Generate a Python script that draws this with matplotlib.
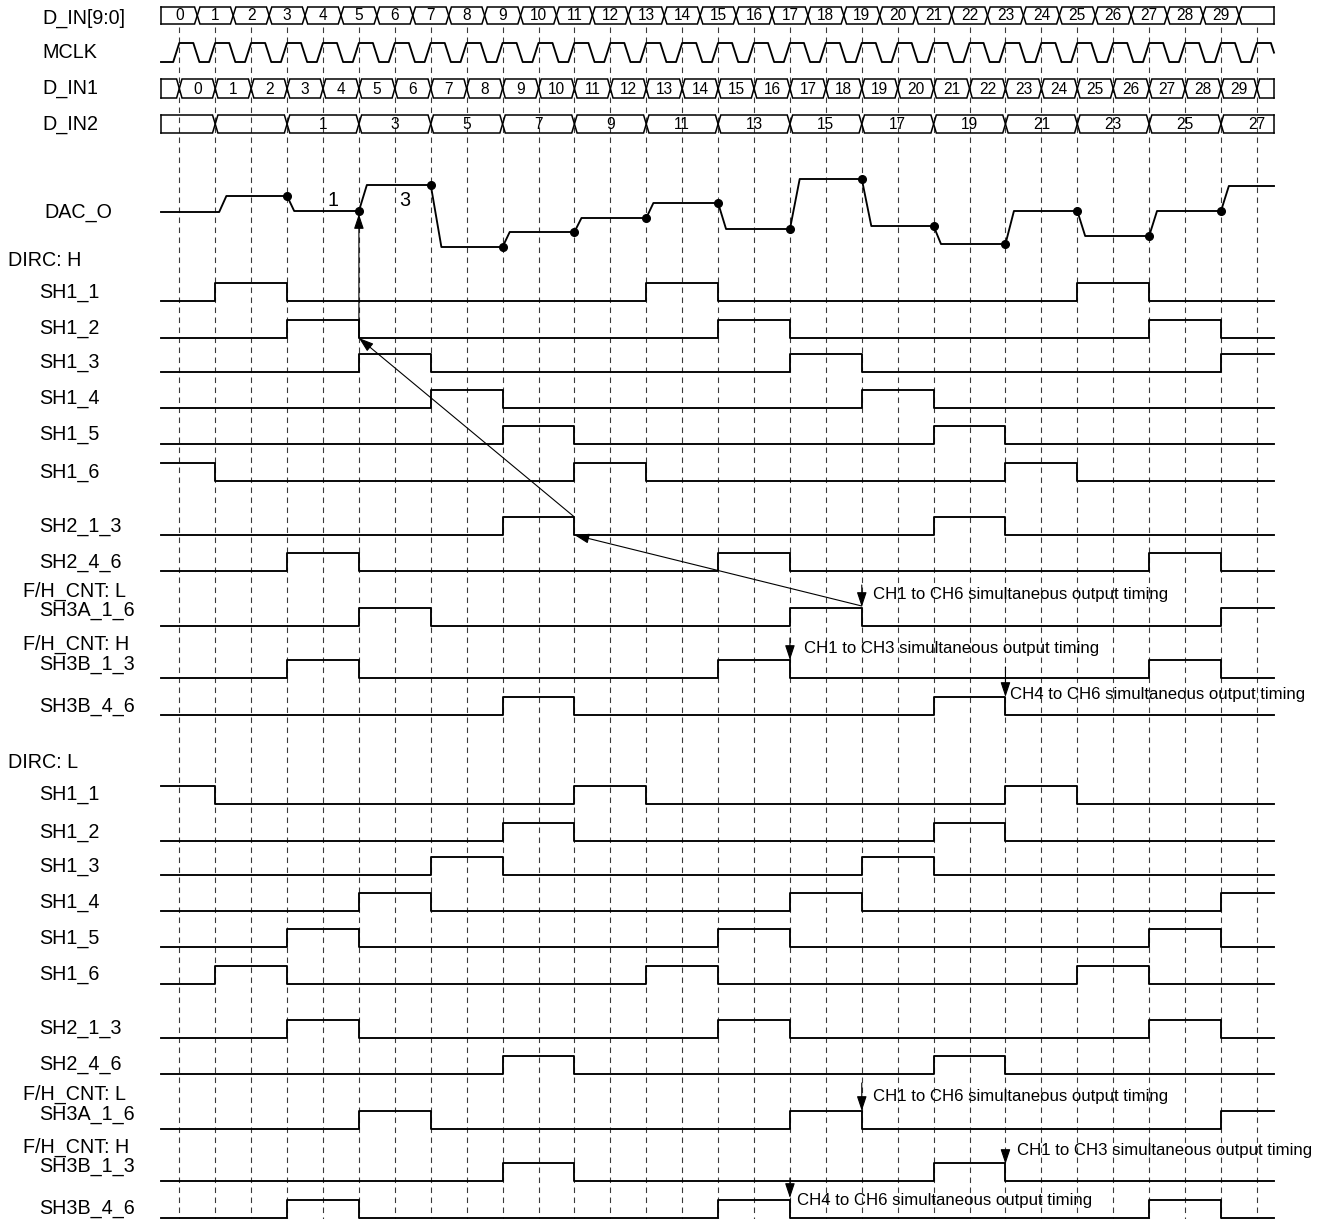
import matplotlib
matplotlib.use("Agg")
import matplotlib.pyplot as plt

plt.rcParams['font.family'] = ['Liberation Sans', 'DejaVu Sans']
plt.rcParams['lines.scale_dashes'] = False

# ---------------- data ----------------
din_bus_values = ['0', '1', '2', '3', '4', '5', '6', '7', '8', '9', '10', '11', '12', '13', '14',
                  '15', '16', '17', '18', '19', '20', '21', '22', '23', '24', '25', '26', '27', '28', '29']
din1_bus_values = ['0', '1', '2', '3', '4', '5', '6', '7', '8', '9', '10', '11', '12', '13', '14',
                   '15', '16', '17', '18', '19', '20', '21', '22', '23', '24', '25', '26', '27', '28', '29']
din2_transitions = [1, 3, 5, 7, 9, 11, 13, 15, 17, 19, 21, 23, 25, 27, 29]
din2_bus_values = ['', '', '1', '3', '5', '7', '9', '11', '13', '15', '17', '19', '21', '23', '25', '27']

dac_change_times = [1, 3, 5, 7, 9, 11, 13, 15, 17, 19, 21, 23, 25, 27, 29]
dac_levels = [38, 54, 39, 65, 3, 18, 32, 47, 21, 71, 24, 6, 39, 14, 39, 64]
dac_sample_times = [3, 5, 7, 9, 11, 13, 15, 17, 19, 21, 23, 25, 27, 29]
dac_value_labels = ['1', '3']

S, E = -1, 31   # "before start" / "past end"
upper_names = ['SH1_1', 'SH1_2', 'SH1_3', 'SH1_4', 'SH1_5', 'SH1_6', 'SH2_1_3', 'SH2_4_6',
               'SH3A_1_6', 'SH3B_1_3', 'SH3B_4_6']
upper_high = [
    [(1, 3), (13, 15), (25, 27)],
    [(3, 5), (15, 17), (27, 29)],
    [(5, 7), (17, 19), (29, E)],
    [(7, 9), (19, 21)],
    [(9, 11), (21, 23)],
    [(S, 1), (11, 13), (23, 25)],
    [(9, 11), (21, 23)],
    [(3, 5), (15, 17), (27, 29)],
    [(5, 7), (17, 19), (29, E)],
    [(3, 5), (15, 17), (27, 29)],
    [(9, 11), (21, 23)],
]
lower_names = upper_names
lower_high = [
    [(S, 1), (11, 13), (23, 25)],
    [(9, 11), (21, 23)],
    [(7, 9), (19, 21)],
    [(5, 7), (17, 19), (29, E)],
    [(3, 5), (15, 17), (27, 29)],
    [(1, 3), (13, 15), (25, 27)],
    [(3, 5), (15, 17), (27, 29)],
    [(9, 11), (21, 23)],
    [(5, 7), (17, 19), (29, E)],
    [(9, 11), (21, 23)],
    [(3, 5), (15, 17), (27, 29)],
]
note_texts = ['CH1 to CH6 simultaneous output timing',
              'CH1 to CH3 simultaneous output timing',
              'CH4 to CH6 simultaneous output timing']
upper_note_times = [19, 17, 23]
lower_note_times = [19, 23, 17]

# ---------------- layout ----------------
W, H = 1327, 1219
PX0, STEP = 179.3, 35.92


def tx(px):
    return (px - PX0) / STEP


T0, T1 = tx(161), tx(1274)
XW = 0.075                      # half-width of bus crossing
upper_lows = [301, 338, 372, 408, 444, 481, 535, 571, 626, 678, 715]
LOWER_SHIFT = 503
SIG_H = 18
LW = 1.35
FS_LABEL = 14.2
FS_BUS = 11.2
FS_NOTE = 12.1

fig = plt.figure(figsize=(W / 100, H / 100), dpi=100)
ax = fig.add_axes([0, 0, 1, 1])
ax.set_xlim(tx(0), tx(W))
ax.set_ylim(H, 0)
ax.axis('off')

# grid of dashed lines
ax.vlines(list(range(31)), 27, H, colors='#3a3a3a', linewidth=0.8,
          linestyles=(0, (4.0, 3.2)), zorder=1)


def bus(top, bot, transitions, labels, label_pos):
    mid = (top + bot) / 2
    xs_a, ys_a = [T0], [top]
    xs_b, ys_b = [T0], [bot]
    for t in transitions:
        xs_a += [t - XW, t + XW]
        xs_b += [t - XW, t + XW]
        ya, yb = ys_a[-1], ys_b[-1]
        ys_a += [ya, yb]
        ys_b += [yb, ya]
    xs_a.append(T1); ys_a.append(ys_a[-1])
    xs_b.append(T1); ys_b.append(ys_b[-1])
    for xs, ys in ((xs_a, ys_a), (xs_b, ys_b)):
        ax.plot(xs, ys, color='black', lw=1.1, zorder=3, solid_joinstyle='miter')
    ax.plot([T0, T0], [top, bot], color='black', lw=1.1, zorder=3)
    ax.plot([T1, T1], [top, bot], color='black', lw=1.1, zorder=3)
    for lab, p in zip(labels, label_pos):
        if lab:
            ax.text(p, mid + 0.5, lab, ha='center', va='center', fontsize=FS_BUS, zorder=4)


# D_IN[9:0]
din_tr = [k + 0.5 for k in range(len(din_bus_values))]
ax.fill_between([T0, T1], 7, 24, color='white', zorder=2)
bus(7, 24, din_tr, din_bus_values, list(range(len(din_bus_values))))
# D_IN1
bus(79, 98, list(range(31)), din1_bus_values, [k + 0.5 for k in range(len(din1_bus_values))])
# D_IN2
d2_bounds = [T0] + din2_transitions + [T1]
d2_pos = [(d2_bounds[i] + d2_bounds[i + 1]) / 2 for i in range(len(d2_bounds) - 1)]
d2_pos[-1] = 30
bus(115, 133, din2_transitions, din2_bus_values, d2_pos)

# MCLK
mx, my = [T0], [62]
for k in range(31):
    for dt, yy in ((-0.17, 62), (0.0, 43), (0.39, 43), (0.56, 62)):
        mx.append(k + dt); my.append(yy)
mx_c, my_c = [], []
for i, (x, y) in enumerate(zip(mx, my)):
    if x <= T1:
        mx_c.append(x); my_c.append(y)
    else:
        x0, y0 = mx[i - 1], my[i - 1]
        my_c.append(y0 + (y - y0) * (T1 - x0) / (x - x0)); mx_c.append(T1)
        break
ax.plot(mx_c, my_c, color='black', lw=LW, zorder=3)

# DAC_O
DAC_BASE = 250
dx = [T0]
dy = [DAC_BASE - dac_levels[0]]
for i, t in enumerate(dac_change_times):
    y_prev = DAC_BASE - dac_levels[i]
    y_new = DAC_BASE - dac_levels[i + 1]
    off = 0.11 if i == 0 else 0.0
    ramp = (6.0 + 0.075 * abs(y_new - y_prev)) / STEP
    dx += [t + off, t + off + ramp]
    dy += [y_prev, y_new]
dx.append(T1); dy.append(dy[-1])
ax.plot(dx, dy, color='black', lw=LW, zorder=3)
for t in dac_sample_times:
    i = dac_change_times.index(t)
    ax.plot(t, DAC_BASE - dac_levels[i], 'o', color='black', ms=5.5, zorder=4)
for lab, p in zip(dac_value_labels, [tx(333), tx(405)]):
    ax.text(p, 200, lab, ha='center', va='center', fontsize=FS_LABEL, zorder=4)


def digital(intervals, y_low):
    y_high = y_low - SIG_H
    events = []
    lvl0 = y_low
    for a, b in intervals:
        if a <= T0:
            lvl0 = y_high
        else:
            events.append((a, y_high))
        if b < T1:
            events.append((b, y_low))
    events.sort()
    xs, ys = [T0], [lvl0]
    cur = lvl0
    for t, new in events:
        xs += [t, t]
        ys += [cur, new]
        cur = new
    xs.append(T1); ys.append(cur)
    ax.plot(xs, ys, color='black', lw=LW, zorder=3)


def label(px, y, s):
    ax.text(tx(px), y, s, ha='left', va='center', fontsize=FS_LABEL, zorder=4)


for name, lab in ((0, 'D_IN[9:0]'), (1, 'MCLK'), (2, 'D_IN1'), (3, 'D_IN2')):
    label(42, [18, 52, 89, 125][name], lab)
label(44, 212, 'DAC_O')

for section, (hi_list, shift, head) in enumerate(((upper_high, 0, 'DIRC: H'),
                                                  (lower_high, LOWER_SHIFT, 'DIRC: L'))):
    label(8, 260 + shift, head)
    for nm, iv, low in zip(upper_names, hi_list, upper_lows):
        y_low = low + shift
        digital(iv, y_low)
        if nm == 'SH3A_1_6':
            label(23, y_low - 35, 'F/H_CNT: L')
            label(39, y_low - 15, nm)
        elif nm == 'SH3B_1_3':
            label(23, y_low - 34, 'F/H_CNT: H')
            label(39, y_low - 14, nm)
        else:
            label(39, y_low - 9, nm)


def arrow(x0, y0, x1, y1, lw=0.8):
    ax.annotate('', xy=(x1, y1), xytext=(x0, y0),
                arrowprops=dict(arrowstyle='-|>,head_length=0.9,head_width=0.3',
                                mutation_scale=10, color='black', lw=lw,
                                shrinkA=0, shrinkB=0), zorder=5)


# causal arrows (upper section)
arrow(19, 606, 11, 535)
arrow(11, 517, 5, 338)
arrow(5, 338, 5, 214)

# notes, upper section
up_y = [(585, 607, 594), (638, 660, 648), (667, 697, 694)]
up_tx = [tx(873), tx(804), tx(1010)]
for txt, t, (y0, y1, yt), xt in zip(note_texts, upper_note_times, up_y, up_tx):
    arrow(t, y0, t, y1)
    ax.text(xt, yt, txt, ha='left', va='center', fontsize=FS_NOTE, zorder=4)

lo_y = [(1083, 1111, 1097), (1153, 1164, 1151), (1178, 1198, 1200)]
lo_tx = [tx(873), tx(1017), tx(797)]
for txt, t, (y0, y1, yt), xt in zip(note_texts, lower_note_times, lo_y, lo_tx):
    arrow(t, y0, t, y1)
    ax.text(xt, yt, txt, ha='left', va='center', fontsize=FS_NOTE, zorder=4)

fig.savefig('out.png', dpi=100, facecolor='white')
